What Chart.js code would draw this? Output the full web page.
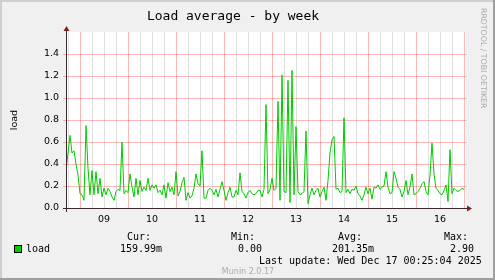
<!DOCTYPE html>
<html>
<head>
<meta charset="utf-8">
<script src="https://cdn.jsdelivr.net/npm/chart.js@4.4.1/dist/chart.umd.min.js"></script>
<style>
html, body { margin: 0; padding: 0; background: #f0f0f0; }
#grafico { display: block; }
</style>
</head>
<body>
<canvas id="grafico" width="495" height="280"></canvas>
<script>
// load average, one sample per hour starting at the left edge of the graph
const loadValues = [
  0.33, 0.50, 0.66, 0.50, 0.52, 0.40, 0.30, 0.13, 0.12, 0.07, 0.75, 0.36,
  0.12, 0.34, 0.12, 0.33, 0.13, 0.27, 0.10, 0.18, 0.12, 0.18, 0.15, 0.10,
  0.07, 0.15, 0.17, 0.16, 0.60, 0.13, 0.16, 0.14, 0.31, 0.19, 0.10, 0.27,
  0.12, 0.25, 0.15, 0.19, 0.16, 0.27, 0.16, 0.21, 0.18, 0.21, 0.14, 0.16,
  0.12, 0.21, 0.09, 0.23, 0.15, 0.19, 0.12, 0.33, 0.11, 0.15, 0.23, 0.28,
  0.07, 0.14, 0.09, 0.11, 0.18, 0.31, 0.22, 0.20, 0.52, 0.09, 0.09, 0.16,
  0.18, 0.16, 0.12, 0.17, 0.10, 0.17, 0.24, 0.16, 0.07, 0.14, 0.19, 0.10,
  0.10, 0.16, 0.12, 0.32, 0.15, 0.13, 0.09, 0.14, 0.16, 0.13, 0.12, 0.13,
  0.16, 0.16, 0.10, 0.17, 0.94, 0.13, 0.17, 0.27, 0.16, 0.18, 0.97, 0.07,
  1.21, 0.15, 0.14, 1.16, 0.05, 1.25, 0.12, 0.74, 0.15, 0.12, 0.13, 0.15,
  0.70, 0.04, 0.12, 0.18, 0.12, 0.16, 0.18, 0.10, 0.15, 0.19, 0.07, 0.25,
  0.50, 0.62, 0.65, 0.17, 0.18, 0.14, 0.15, 0.82, 0.14, 0.17, 0.13, 0.17,
  0.16, 0.20, 0.13, 0.11, 0.07, 0.12, 0.19, 0.13, 0.18, 0.08, 0.19, 0.18,
  0.21, 0.17, 0.19, 0.20, 0.33, 0.19, 0.13, 0.14, 0.33, 0.27, 0.19, 0.17,
  0.10, 0.15, 0.25, 0.12, 0.19, 0.31, 0.12, 0.13, 0.15, 0.18, 0.22, 0.24,
  0.15, 0.12, 0.30, 0.59, 0.31, 0.18, 0.16, 0.13, 0.12, 0.16, 0.21, 0.06,
  0.53, 0.13, 0.18, 0.16, 0.15, 0.16, 0.18, 0.17
];
const dayLabels = ['09', '10', '11', '12', '13', '14', '15', '16'];
const firstMidnight = 7;   // hour index of the first day boundary
const totalHours = 200;

const statNames = ['Cur:', 'Min:', 'Avg:', 'Max:'];
const statValues = ['159.99m', '0.00', '201.35m', '2.90'];
const lastUpdate = 'Last update: Wed Dec 17 00:25:04 2025';

document.addEventListener("DOMContentLoaded", function () {

const ctx = document.getElementById('grafico').getContext('2d');

const red = 'rgba(255, 0, 0, 0.28)';
const grey = 'rgba(0, 0, 0, 0.12)';
const mono = "'DejaVu Sans Mono', monospace";
const sans = "'DejaVu Sans', sans-serif";

const muninFrame = {
  id: 'muninFrame',
  beforeDraw(chart) {
    const c = chart.ctx;
    const a = chart.chartArea;
    c.save();
    c.fillStyle = '#f0f0f0';
    c.fillRect(0, 0, chart.width, chart.height);
    c.fillStyle = '#cfcfcf';
    c.fillRect(0, 0, chart.width, 2);
    c.fillRect(0, 0, 2, chart.height);
    c.fillStyle = '#9e9e9e';
    c.fillRect(0, chart.height - 2, chart.width, 2);
    c.fillRect(chart.width - 2, 0, 2, chart.height);
    c.fillStyle = '#ffffff';
    c.fillRect(a.left, a.top, a.right - a.left, a.bottom - a.top);
    c.restore();
  },
  afterDraw(chart) {
    const c = chart.ctx;
    const a = chart.chartArea;
    c.save();

    // axes and arrows
    c.strokeStyle = '#3a2c2c';
    c.lineWidth = 1;
    c.beginPath();
    c.moveTo(a.left - 3, a.bottom + 0.5);
    c.lineTo(a.right + 1, a.bottom + 0.5);
    c.moveTo(a.left + 0.5, a.bottom + 4);
    c.lineTo(a.left + 0.5, a.top - 2);
    c.stroke();
    c.fillStyle = '#7f1f1f';
    c.beginPath();
    c.moveTo(a.left + 0.5, a.top - 6);
    c.lineTo(a.left - 2.5, a.top - 1);
    c.lineTo(a.left + 3.5, a.top - 1);
    c.closePath();
    c.fill();
    c.beginPath();
    c.moveTo(a.right + 6, a.bottom + 0.5);
    c.lineTo(a.right + 1, a.bottom - 2.5);
    c.lineTo(a.right + 1, a.bottom + 3.5);
    c.closePath();
    c.fill();

    // y axis name
    c.fillStyle = '#000';
    c.font = "9.5px " + sans;
    c.textAlign = 'center';
    c.textBaseline = 'middle';
    c.save();
    c.translate(15, (a.top + a.bottom) / 2);
    c.rotate(-Math.PI / 2);
    c.fillText('load', 0, 0);
    c.restore();

    // watermark
    c.save();
    c.fillStyle = '#aaaaaa';
    c.font = "7.8px " + sans;
    c.textAlign = 'left';
    c.textBaseline = 'alphabetic';
    c.translate(481, 8);
    c.rotate(Math.PI / 2);
    c.fillText('RRDTOOL / TOBI OETIKER', 0, 0);
    c.restore();

    // legend block
    c.font = "10px " + mono;
    c.textAlign = 'left';
    c.textBaseline = 'alphabetic';
    c.fillStyle = '#000';
    const headX = [127, 231, 338, 444];
    const valX = [120, 238, 332, 450];
    statNames.forEach(function (s, i) { c.fillText(s, headX[i], 240); });
    statValues.forEach(function (s, i) { c.fillText(s, valX[i], 252); });
    c.fillText('load', 26, 252);
    c.fillText(lastUpdate, 259, 264);

    c.fillStyle = '#00cc00';
    c.fillRect(14, 245, 8, 8);
    c.strokeStyle = '#000';
    c.strokeRect(14.5, 245.5, 7, 7);

    c.fillStyle = '#aaaaaa';
    c.font = "8px " + sans;
    c.textAlign = 'center';
    c.fillText('Munin 2.0.17', 248, 274);

    c.restore();
  }
};

const data = {
  datasets: [
    {
      label: 'load',
      data: loadValues.map(function (v, i) { return { x: i, y: v }; }),
      borderColor: '#00cc00',
      borderWidth: 1,
      pointRadius: 0,
      tension: 0,
      fill: false
    }
  ]
};

const config = {
  type: 'line',
  data: data,
  options: {
    responsive: false,
    animation: false,
    layout: { padding: { left: 0, top: 0, right: 29, bottom: 0 } },
    plugins: {
      legend: { display: false },
      tooltip: { enabled: false },
      title: {
        display: true,
        text: 'Load average - by week',
        color: '#000',
        font: { family: mono, size: 13, weight: 'normal' },
        padding: { top: 9, bottom: 7.4 }
      }
    },
    scales: {
      x: {
        type: 'linear',
        min: 0,
        max: totalHours,
        afterFit: function (scale) { scale.height = 72; },
        afterBuildTicks: function (scale) {
          const t = [];
          for (let h = firstMidnight % 6; h <= totalHours; h += 6) t.push({ value: h });
          scale.ticks = t;
        },
        border: { display: false },
        grid: {
          drawTicks: false,
          color: function (c) {
            return (c.tick.value - firstMidnight) % 24 === 0 ? red : grey;
          }
        },
        ticks: {
          autoSkip: false,
          maxRotation: 0,
          padding: 6,
          color: '#000',
          font: { family: sans, size: 9.5 },
          callback: function (v) {
            const d = (v - firstMidnight - 12) / 24;
            return Number.isInteger(d) && dayLabels[d] ? dayLabels[d] : '';
          }
        }
      },
      y: {
        min: 0,
        max: 1.6,
        afterFit: function (scale) { scale.width = 66; },
        border: { display: false },
        grid: {
          tickLength: 3,
          color: function (c) {
            const k = Math.round(c.tick.value * 10);
            if (k >= 16) return 'rgba(0,0,0,0)';
            return k % 2 === 0 ? red : grey;
          }
        },
        ticks: {
          stepSize: 0.1,
          padding: 4,
          color: '#000',
          font: { family: sans, size: 9.5 },
          callback: function (v) {
            const k = Math.round(v * 10);
            return k % 2 === 0 && k < 16 ? (k / 10).toFixed(1) : '';
          }
        }
      }
    }
  },
  plugins: [muninFrame]
};

const myChart = new Chart(ctx, config);

});
</script>
</body>
</html>
